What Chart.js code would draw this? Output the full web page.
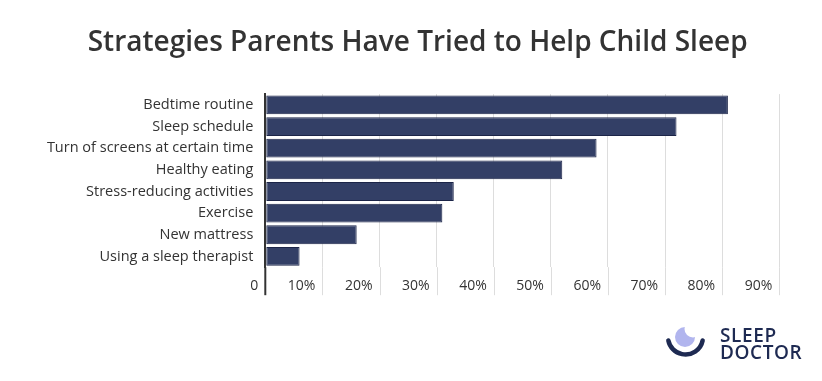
<!DOCTYPE html>
<html>
<head>
<meta charset="utf-8">
<script src="https://cdn.jsdelivr.net/npm/chart.js@4.4.1/dist/chart.umd.min.js"></script>
<style>
  html, body { margin: 0; padding: 0; background: #ffffff; }
  #wrap { width: 822px; height: 381px; position: relative; }
</style>
</head>
<body>
<div id="wrap"><canvas id="c" width="822" height="381"></canvas></div>
<script>
const titleText = 'Strategies Parents Have Tried to Help Child Sleep';
const categories = [
  'Bedtime routine',
  'Sleep schedule',
  'Turn of screens at certain time',
  'Healthy eating',
  'Stress-reducing activities',
  'Exercise',
  'New mattress',
  'Using a sleep therapist'
];
const percentValues = [81, 72, 58, 52, 33, 31, 16, 6];
const axisMax = 90;
const axisStep = 10;
const logoLines = ['SLEEP', 'DOCTOR'];

const FONT = '"Open Sans", sans-serif';
const GRID_EXT = 28;

// widen the y-axis label clip box to the canvas edge so long labels are not cut
const labelRoomPlugin = {
  id: 'labelRoom',
  afterLayout(chart) { chart.scales.y.left = 0; }
};

// extends the x-axis grid lines down through the tick-label row
const gridExtPlugin = {
  id: 'gridExt',
  beforeDatasetsDraw(chart) {
    const ctx = chart.ctx;
    const xs = chart.scales.x;
    const bottom = chart.chartArea.bottom;
    ctx.save();
    xs.ticks.forEach((t) => {
      const px = xs.getPixelForValue(t.value);
      ctx.beginPath();
      if (t.value === 0) { ctx.strokeStyle = '#333333'; ctx.lineWidth = 2; }
      else { ctx.strokeStyle = '#dddddd'; ctx.lineWidth = 1; }
      const x = t.value === 0 ? px : Math.round(px) + 0.5;
      ctx.moveTo(x, bottom);
      ctx.lineTo(x, bottom + GRID_EXT);
      ctx.stroke();
    });
    ctx.restore();
  }
};

const logoPlugin = {
  id: 'logo',
  afterDraw(chart) {
    const ctx = chart.ctx;
    ctx.save();
    // crescent
    ctx.fillStyle = '#b1b5ee';
    ctx.beginPath();
    ctx.arc(685, 337, 10, 0, Math.PI * 2);
    ctx.fill();
    ctx.fillStyle = '#ffffff';
    ctx.beginPath();
    ctx.arc(693, 329, 8.5, 0, Math.PI * 2);
    ctx.fill();
    // smile arc
    ctx.strokeStyle = '#1e2a52';
    ctx.lineWidth = 4.5;
    ctx.lineCap = 'round';
    ctx.beginPath();
    ctx.arc(685.5, 337, 17.5, 0.2, Math.PI - 0.2);
    ctx.stroke();
    // text
    ctx.fillStyle = '#1e2a52';
    ctx.font = '600 19px ' + FONT;
    try { ctx.letterSpacing = '0.6px'; } catch (e) {}
    ctx.textAlign = 'left';
    ctx.textBaseline = 'alphabetic';
    ctx.fillText(logoLines[0], 720, 341.5);
    ctx.fillText(logoLines[1], 720, 358.5);
    ctx.restore();
  }
};

new Chart(document.getElementById('c'), {
  type: 'bar',
  data: {
    labels: categories,
    datasets: [{
      data: percentValues,
      backgroundColor: '#333f66',
      borderColor: '#1c2548',
      borderWidth: 1,
      borderSkipped: false,
      barPercentage: 0.87,
      categoryPercentage: 1.0
    }]
  },
  options: {
    indexAxis: 'y',
    responsive: false,
    animation: false,
    devicePixelRatio: 1,
    layout: { padding: { left: 56, right: 42.7, top: 0, bottom: 77 } },
    plugins: {
      legend: { display: false },
      tooltip: { enabled: false },
      title: {
        display: true,
        text: titleText,
        color: '#333333',
        font: { family: FONT, size: 28, weight: '600' },
        padding: { top: 26, bottom: 34.5 }
      }
    },
    scales: {
      x: {
        min: 0,
        max: axisMax,
        border: { display: false },
        grid: {
          color: (c) => (c.tick && c.tick.value === 0) ? '#333333' : '#dddddd',
          lineWidth: (c) => (c.tick && c.tick.value === 0) ? 2 : 1,
          drawTicks: false
        },
        ticks: {
          stepSize: axisStep,
          align: 'end',
          labelOffset: -7,
          padding: 10,
          color: '#333333',
          font: { family: FONT, size: 14 },
          callback: (v) => v === 0 ? '0' : v + '%'
        }
      },
      y: {
        border: { display: true, color: '#333333', width: 2 },
        grid: { display: false, drawTicks: false },
        ticks: {
          padding: 12,
          color: '#333333',
          font: { family: FONT, size: 14.5 }
        },
        afterFit: (scale) => { scale.width = 265.3 - 56; }
      }
    }
  },
  plugins: [labelRoomPlugin, gridExtPlugin, logoPlugin]
});
</script>
</body>
</html>
